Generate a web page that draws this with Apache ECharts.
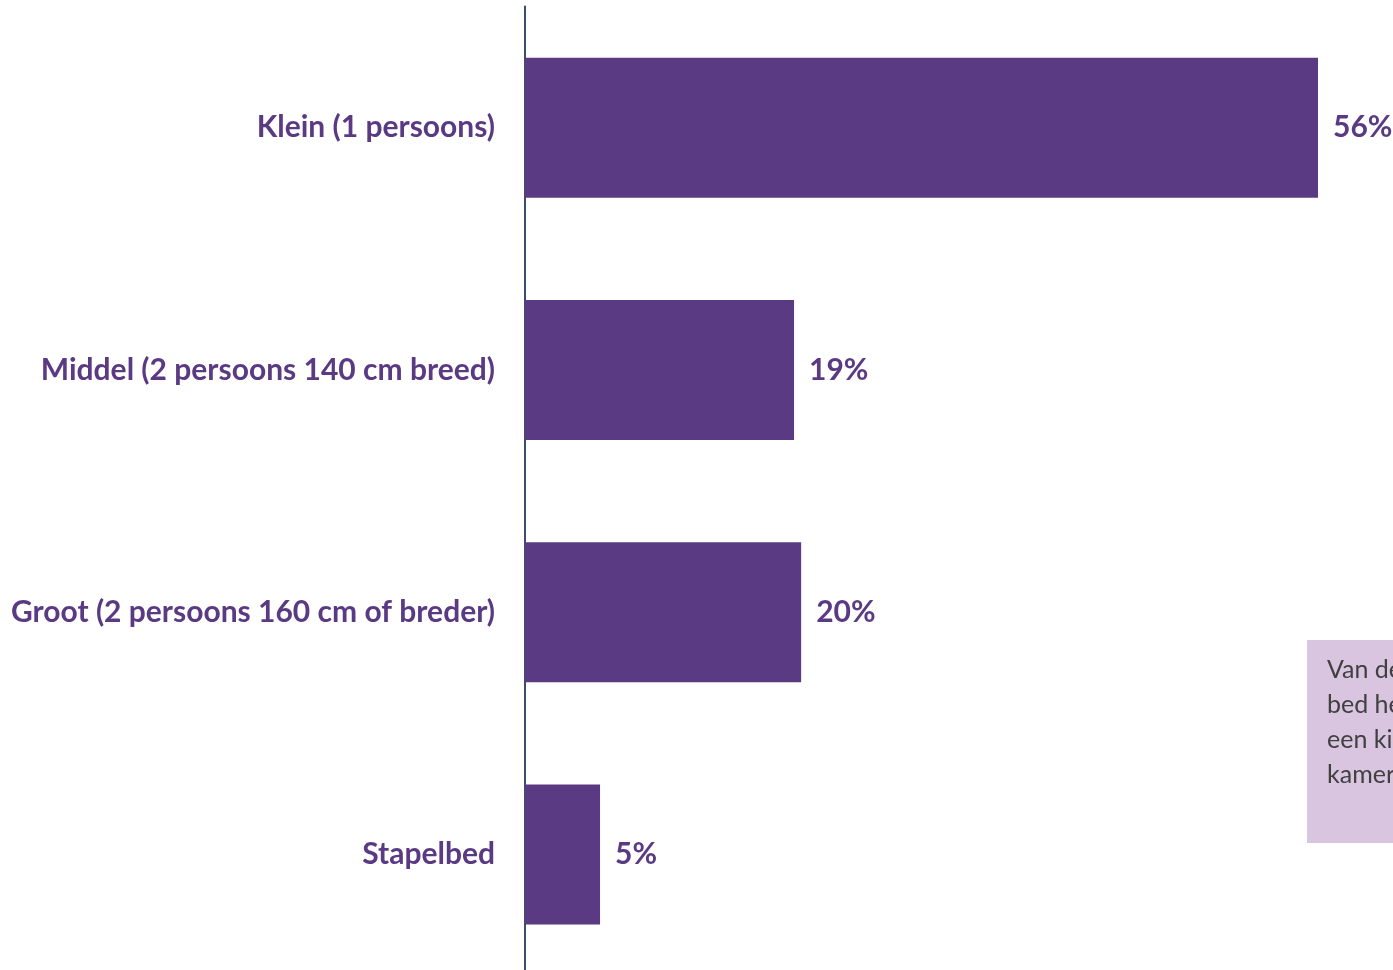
<!DOCTYPE html>
<html>
<head>
<meta charset="utf-8">
<script src="https://cdn.jsdelivr.net/npm/echarts@6/dist/echarts.min.js"></script>
<style>
html,body{margin:0;padding:0;background:#fff;}
#chart{width:1393px;height:970px;}
</style>
</head>
<body>
<div id="chart"></div>
<script>
const categories = ['Klein (1 persoons)', 'Middel (2 persoons 140 cm breed)', 'Groot (2 persoons 160 cm of breder)', 'Stapelbed'];
const values = [56, 19, 19.5, 5.3];
const noteLines = ['Van de kinderen met een', 'bed heeft ...', 'een kind ...', 'kamer'];

const purple = '#5B3A84';
const font = 'Lato, "Open Sans", sans-serif';
const chart = echarts.init(document.getElementById('chart'));
chart.setOption({
  animation: false,
  grid: { left: 525, top: 6.5, width: 793, height: 969, outerBoundsMode: 'none', containLabel: false },
  xAxis: { type: 'value', min: 0, max: 56, show: false },
  yAxis: {
    type: 'category', inverse: true, data: categories,
    axisLine: { show: true, lineStyle: { color: '#3A4E6C', width: 2 } },
    axisTick: { show: false },
    axisLabel: { margin: 30, color: purple, fontWeight: 'bold', fontSize: 30, fontFamily: font }
  },
  series: [{
    type: 'bar', data: values, barWidth: 140,
    itemStyle: { color: purple },
    label: {
      show: true, position: 'right', distance: 15,
      color: purple, fontWeight: 'bold', fontSize: 30, fontFamily: font,
      formatter: p => Math.round(p.value) + '%'
    }
  }],
  graphic: [
    { type: 'rect', left: 1307, top: 640, shape: { width: 200, height: 203 }, style: { fill: '#D9C5E0' }, z: 10 },
    { type: 'text', left: 1327, top: 652, style: { text: noteLines.join('\n'), fill: '#404040', font: '25px ' + font, lineHeight: 35 }, z: 11 }
  ]
});
</script>
</body>
</html>
